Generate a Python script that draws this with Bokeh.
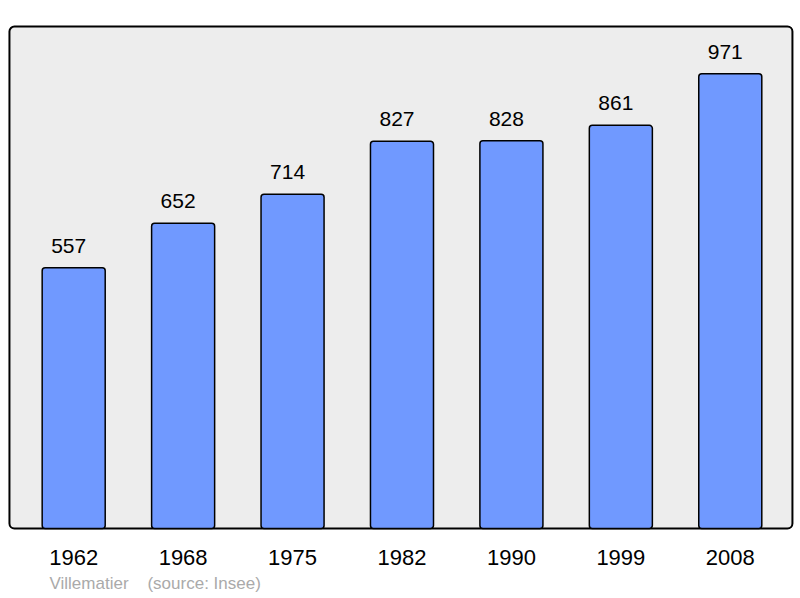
from bokeh.plotting import figure
from bokeh.models import FixedTicker, Title, BoxAnnotation, Range1d, ColumnDataSource
from bokeh.core.properties import value
from bokeh.embed import file_html
from bokeh.resources import INLINE

years = ["1962", "1968", "1975", "1982", "1990", "1999", "2008"]
population = [557, 652, 714, 827, 828, 861, 971]
commune = "Villematier"
source = "(source: Insee)"

xs = list(range(len(years)))
src = ColumnDataSource(dict(x=xs, pop=population, lab=[str(v) for v in population]))

FONT = "Liberation Sans"

p = figure(width=800, height=598, output_backend="svg", toolbar_location=None,
           x_range=Range1d(-0.614, 6.596), y_range=Range1d(-6.4, 1078.4),
           min_border_left=6, min_border_right=5, min_border_top=23, min_border_bottom=67)
p.background_fill_color = "white"
p.border_fill_color = "white"
p.outline_line_color = None
p.grid.visible = False
p.yaxis.visible = False

frame_box = BoxAnnotation(left=-0.587, right=6.568, bottom=0, top=1072,
                          fill_color="#ededed", fill_alpha=1, line_color="black",
                          line_alpha=1, line_width=2, border_radius=5, level="underlay")
p.add_layout(frame_box)

p.vbar(x="x", top="pop", width=0.576, bottom=0, source=src, fill_color="#7099ff",
       line_color="black", line_width=1.5, border_radius=3)

p.text(x="x", y="pop", text="lab", source=src, x_offset=-5, y_offset=-15,
       text_align="center", text_baseline="bottom", text_font=value(FONT),
       text_font_size="21px", text_color="black")

ax = p.xaxis[0]
ax.ticker = FixedTicker(ticks=xs)
ax.major_label_overrides = {i: y for i, y in zip(xs, years)}
ax.axis_line_color = None
ax.major_tick_line_color = None
ax.minor_tick_line_color = None
ax.major_label_standoff = 12
ax.major_label_text_font = FONT
ax.major_label_text_font_size = "22px"
ax.major_label_text_color = "black"

footer = Title(text=commune + "\u00a0" * 4 + source, align="left", offset=43,
               text_font=FONT, text_font_size="17px", text_color="#aaaaaa",
               text_font_style="normal", standoff=9)
p.add_layout(footer, "below")

open("out.html", "w").write(file_html(p, INLINE))
